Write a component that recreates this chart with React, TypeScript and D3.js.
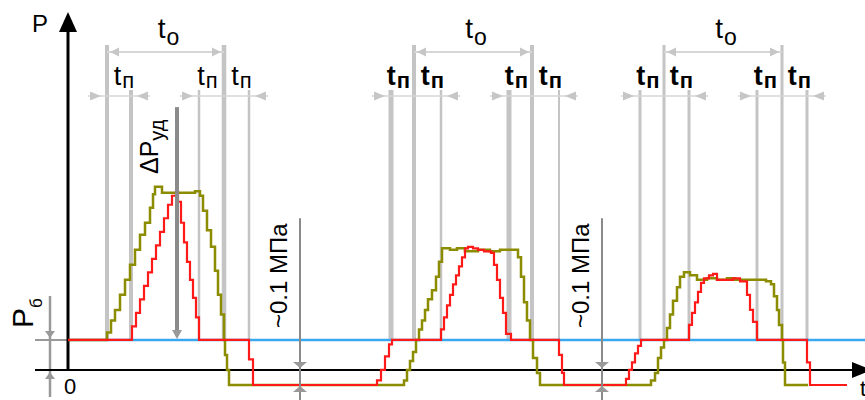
import React from 'react';
import * as d3 from 'd3';

// ---------- data (time in arbitrary units, pressure in MPa) ----------
const P0 = 0.2;
const VACUUM = -0.1;
const T_END = 797;

// red trace: [time, pressure] samples (step signal)
const redSeries: [number, number][] = [
  [0, 0.2],
  [64, 0.29], [68, 0.38], [72, 0.47], [76, 0.56], [80, 0.65], [84, 0.74], [88, 0.83], [92, 0.92], [96, 1.01], [100, 1.1], [104, 1.16], [108, 1.19],
  [110, 1.12], [113, 0.98], [116, 0.85], [119, 0.72], [122, 0.6], [125, 0.48], [128, 0.35], [131, 0.2],
  [181, 0.07], [185, -0.1],
  [309, -0.07], [313, 0.0], [317, 0.09], [321, 0.17], [324, 0.2],
  [373, 0.27], [376, 0.35], [379, 0.43], [382, 0.5], [385, 0.57], [388, 0.63], [391, 0.69], [394, 0.75], [397, 0.81],
  [400, 0.82], [405, 0.81], [410, 0.8], [416, 0.79], [423, 0.78],
  [426, 0.7], [429, 0.6], [432, 0.48], [435, 0.38], [438, 0.24], [443, 0.2],
  [491, 0.1], [494, -0.02], [496, -0.1],
  [558, -0.06], [561, 0.0], [564, 0.05], [567, 0.11], [570, 0.16], [573, 0.2],
  [621, 0.3], [624, 0.38], [627, 0.45], [630, 0.52], [633, 0.58], [636, 0.61], [641, 0.63], [645, 0.64], [649, 0.6], [657, 0.6], [665, 0.61], [672, 0.59],
  [679, 0.5], [682, 0.4], [685, 0.32], [689, 0.2],
  [739, 0.05], [742, -0.1], [779, -0.1],
];

// olive trace
const oliveSeries: [number, number][] = [
  [0, 0.2],
  [39, 0.25], [43, 0.33], [47, 0.4], [52, 0.5], [57, 0.6], [62, 0.7], [67, 0.8], [72, 0.9], [77, 0.98], [82, 1.08], [85, 1.17], [87, 1.22], [94, 1.18], [127, 1.19], [132, 1.16],
  [135, 1.06], [139, 0.93], [143, 0.82], [147, 0.66], [150, 0.5], [153, 0.37], [156, 0.2], [157, 0.1], [159, 0.0], [161, -0.1],
  [336, -0.07], [339, 0.0], [342, 0.06], [345, 0.12], [348, 0.2], [351, 0.27], [354, 0.33], [357, 0.4], [360, 0.47], [364, 0.53], [368, 0.62], [371, 0.72], [374, 0.81],
  [382, 0.8], [389, 0.81], [397, 0.79], [410, 0.8], [422, 0.79], [432, 0.8], [442, 0.8], [450, 0.75],
  [453, 0.62], [456, 0.45], [459, 0.33], [462, 0.2], [465, 0.08], [469, -0.02], [472, -0.1],
  [583, -0.07], [587, -0.02], [590, 0.08], [593, 0.15], [596, 0.2], [599, 0.28], [602, 0.37], [605, 0.46], [609, 0.55], [612, 0.62], [616, 0.65],
  [622, 0.63], [629, 0.6], [639, 0.61], [649, 0.6], [659, 0.61], [667, 0.6], [682, 0.6], [698, 0.59], [703, 0.57],
  [706, 0.49], [709, 0.4], [711, 0.3], [714, 0.2], [715, 0.05], [717, -0.1], [740, -0.1],
];

// cycle intervals
const toIntervals: [number, number][] = [[39, 156], [346, 464], [596, 714]];
const tnIntervals: [number, number][][] = [
  [[39, 63], [131, 156], [156, 181]],
  [[323, 346], [346, 373], [441, 464], [464, 491]],
  [[572, 596], [596, 621], [689, 714], [714, 739]],
];
const dpTime = 109;
const DP_TOP = 1.75;
const vacDimTimes = [232, 534];
const VAC_DIM_TOP = 1.01;

// labels
const toLabel = ['t', 'о'];
const tnLabel = ['t', 'п'];
const dpLabel = ['ΔP', 'уд'];
const vacLabel = '~0.1 МПа';
const p0Label = ['P', 'б'];
const axisYLabel = 'P';
const axisXLabel = 't';
const originLabel = '0';

// ---------- styles ----------
const guideWidths = [
  [4, 4, 2.5, 4.5, 2.5],
  [5, 4, 2.5, 5, 4, 2],
  [3, 3, 3, 3, 3, 3],
];
const tnBold = [false, true, true];
const FONT = "'Liberation Sans', Arial, Helvetica, sans-serif";

export default function App() {
  const W = 865, H = 400;
  const x = d3.scaleLinear().domain([0, 800]).range([68, 868]);
  const y = d3.scaleLinear().domain([-0.2, 2.33]).range([400, 20]);
  const line = d3.line<[number, number]>().x(d => x(d[0])).y(d => y(d[1])).curve(d3.curveStepAfter);

  const yBase = y(P0);
  const yZero = y(0);
  const yVac = y(VACUUM);
  const axisX = x(0);

  const guideColor = '#c4c4c4';
  const dimColor = '#d6d6d6';
  const headColor = '#c6c6c6';
  const dark = '#8a8a8a';

  const tri = (tx: number, ty: number, dir: 'l' | 'r' | 'u' | 'd', len: number, half: number) => {
    if (dir === 'r') return `M${tx},${ty}L${tx - len},${ty - half}L${tx - len},${ty + half}Z`;
    if (dir === 'l') return `M${tx},${ty}L${tx + len},${ty - half}L${tx + len},${ty + half}Z`;
    if (dir === 'd') return `M${tx},${ty}L${tx - half},${ty - len}L${tx + half},${ty - len}Z`;
    return `M${tx},${ty}L${tx - half},${ty + len}L${tx + half},${ty + len}Z`;
  };

  const elems: React.ReactNode[] = [];

  // guide lines per cycle
  tnIntervals.forEach((ints, ci) => {
    const bset = new Set<number>();
    ints.forEach(([a, b]) => { bset.add(a); bset.add(b); });
    const bounds = Array.from(bset).sort((a, b) => a - b);
    const to = toIntervals[ci];
    bounds.forEach((b, bi) => {
      const isTo = b === to[0] || b === to[1];
      elems.push(
        <line key={`g${ci}-${bi}`} x1={x(b)} x2={x(b)} y1={isTo ? 45 : 90} y2={yBase}
          stroke={guideColor} strokeWidth={guideWidths[ci][bi]} />
      );
    });
  });

  // to dimensions
  toIntervals.forEach(([a, b], ci) => {
    const xa = x(a), xb = x(b), yy = 52;
    elems.push(<line key={`td${ci}`} x1={xa} x2={xb} y1={yy} y2={yy} stroke={dimColor} strokeWidth={2} />);
    elems.push(<path key={`ta${ci}`} d={tri(xa + 3, yy, 'l', 9, 4.5)} fill={headColor} />);
    elems.push(<path key={`tb${ci}`} d={tri(xb - 3, yy, 'r', 9, 4.5)} fill={headColor} />);
    elems.push(
      <text key={`tl${ci}`} x={(xa + xb) / 2 + 3} y={38} textAnchor="middle" fontFamily={FONT} fontSize={28} fill="#000">
        <tspan>{toLabel[0]}</tspan><tspan dx={1} dy={7} fontSize={23}>{toLabel[1]}</tspan>
      </text>
    );
  });

  // tn dimensions
  tnIntervals.forEach((ints, ci) => {
    const groups: [number, number][] = [];
    ints.forEach(([a, b]) => {
      const g = groups[groups.length - 1];
      if (g && g[1] === a) g[1] = b; else groups.push([a, b]);
    });
    groups.forEach(([a, b], gi) => {
      const yy = 96;
      const lt = x(a) - 6, rt = x(b) + 6;
      elems.push(<line key={`nd${ci}-${gi}`} x1={lt - 13} x2={rt + 13} y1={yy} y2={yy} stroke={dimColor} strokeWidth={1.5} />);
      elems.push(<path key={`na${ci}-${gi}`} d={tri(lt, yy, 'r', 11, 4.5)} fill={headColor} />);
      elems.push(<path key={`nb${ci}-${gi}`} d={tri(rt, yy, 'l', 11, 4.5)} fill={headColor} />);
    });
    const to = toIntervals[ci];
    ints.forEach(([a, b], ii) => {
      const mid = (x(a) + x(b)) / 2;
      const off = b === to[0] || b === to[1] ? -4 : 5;
      elems.push(
        <text key={`nl${ci}-${ii}`} x={mid + off} y={85} textAnchor="middle" fontFamily={FONT}
          fontSize={27} fontWeight={tnBold[ci] ? 'bold' : 'normal'} fill="#000">
          <tspan>{tnLabel[0]}</tspan><tspan dx={1} dy={3} fontSize={22}>{tnLabel[1]}</tspan>
        </text>
      );
    });
  });

  const dpX = x(dpTime);

  return (
    <svg width={W} height={H} style={{ position: 'absolute', left: 0, top: 0, background: '#fff' }}>
      <rect width={W} height={H} fill="#fff" />
      {elems}

      {/* P0 dimension */}
      <line x1={35} x2={axisX} y1={yBase} y2={yBase} stroke="#777" strokeWidth={1.5} />
      <line x1={35} x2={axisX} y1={yZero} y2={yZero} stroke="#777" strokeWidth={1.5} />
      <line x1={50} x2={50} y1={296} y2={397} stroke="#999" strokeWidth={2.5} />
      <path d={tri(50, yBase - 2, 'd', 7, 5)} fill="#999" />
      <path d={tri(50, yZero + 2, 'u', 7, 5)} fill="#999" />
      <text transform={`translate(33,328) rotate(-90)`} fontFamily={FONT} fontSize={30} fill="#000">
        <tspan>{p0Label[0]}</tspan><tspan dy={9} fontSize={17}>{p0Label[1]}</tspan>
      </text>

      {/* base level */}
      <line x1={x(0)} x2={x(T_END)} y1={yBase} y2={yBase} stroke="#3aa8f0" strokeWidth={2.5} />

      {/* axes */}
      <line x1={35} x2={855} y1={yZero} y2={yZero} stroke="#000" strokeWidth={2} />
      <path d={tri(872, yZero, 'r', 20, 8)} fill="#000" />
      <line x1={axisX} x2={axisX} y1={28} y2={yZero} stroke="#000" strokeWidth={3} />
      <path d={tri(axisX, 12, 'u', 20, 9)} fill="#000" />
      <text x={32} y={32} fontFamily={FONT} fontSize={24} fill="#000">{axisYLabel}</text>
      <text x={64} y={394} fontFamily={FONT} fontSize={22} fill="#000">{originLabel}</text>
      <text x={860} y={396} fontFamily={FONT} fontSize={22} fill="#000">{axisXLabel}</text>

      {/* traces */}
      <path d={line(oliveSeries) || ''} fill="none" stroke="#8c8c00" strokeWidth={2.5} />
      <path d={line(redSeries) || ''} fill="none" stroke="#ff1a1a" strokeWidth={2.2} />

      {/* delta P dimension */}
      <line x1={dpX} x2={dpX} y1={y(DP_TOP)} y2={yBase - 6} stroke={dark} strokeWidth={4} />
      <path d={tri(dpX, yBase - 1, 'd', 9, 5)} fill="#999" />
      <text transform={`translate(${dpX - 19},174) rotate(-90)`} fontFamily={FONT} fontSize={25} fill="#000">
        <tspan>{dpLabel[0]}</tspan><tspan dy={6} fontSize={20}>{dpLabel[1]}</tspan>
      </text>

      {/* vacuum dimensions */}
      {vacDimTimes.map((t, i) => (
        <g key={`v${i}`}>
          <line x1={x(t)} x2={x(t)} y1={y(VAC_DIM_TOP)} y2={400} stroke={dark} strokeWidth={2} />
          <path d={tri(x(t), yZero - 2, 'd', 6, 7)} fill="#999" />
          <path d={tri(x(t), yVac + 1, 'u', 6, 7)} fill="#999" />
          <text transform={`translate(${x(t) - 13},328) rotate(-90)`} fontFamily={FONT} fontSize={24} fill="#000">{vacLabel}</text>
        </g>
      ))}
    </svg>
  );
}
